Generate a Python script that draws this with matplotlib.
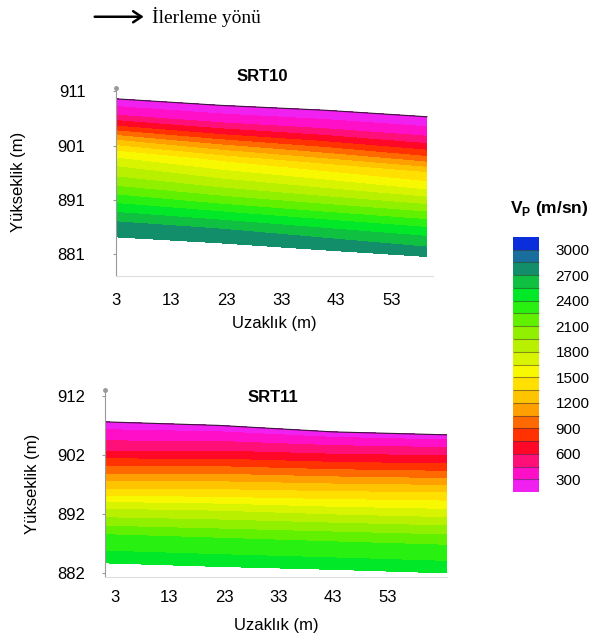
import numpy as np
import matplotlib
matplotlib.use("Agg")
import matplotlib.pyplot as plt
from matplotlib.colors import ListedColormap, BoundaryNorm

plt.rcParams['font.family'] = ['Liberation Sans', 'DejaVu Sans']
plt.rcParams['mathtext.fontset'] = 'custom'
plt.rcParams['mathtext.rm'] = 'Liberation Sans'
plt.rcParams['mathtext.bf'] = 'Liberation Sans:bold'

# hız sınıfları (m/sn)
levels = np.arange(150, 3151, 150)
colors = ['#f020f0', '#ff10c8', '#ff1078', '#ff0828', '#ff3200', '#ff6a00',
          '#ffa000', '#ffc400', '#ffe000', '#f8f800', '#d8f400', '#b8f000',
          '#90f000', '#60f000', '#28f010', '#00e828', '#10c040', '#138e6a',
          '#1a6e9e', '#0a2edc']
cbar_ticks = [300, 600, 900, 1200, 1500, 1800, 2100, 2400, 2700, 3000]

# derinlik oranı (0 = yüzey, 1 = model tabanı)
frac = [0, 0.1, 0.2, 0.3, 0.4, 0.5, 0.6, 0.7, 0.8, 0.9, 1.0]

# SRT10
srt10_x = [3, 22, 41, 59.5]
srt10_top = [909.6, 908.4, 907.5, 906.3]
srt10_bot = [884.2, 883.1, 881.8, 880.6]
srt10_v = [  # satır: derinlik oranı, sütun: istasyon
    [200, 200, 200, 200],
    [380, 360, 350, 340],
    [760, 700, 660, 620],
    [1200, 1100, 1020, 950],
    [1580, 1480, 1400, 1350],
    [1820, 1720, 1650, 1580],
    [2020, 1950, 1900, 1870],
    [2260, 2200, 2170, 2150],
    [2500, 2470, 2440, 2420],
    [2720, 2700, 2680, 2650],
    [2800, 2800, 2800, 2800],
]

# SRT11
srt11_x = [1.2, 22, 43, 63.8]
srt11_top = [907.6, 907.0, 905.9, 905.4]
srt11_bot = [883.7, 883.1, 882.6, 882.0]
srt11_v = [
    [200, 200, 200, 200],
    [380, 420, 450, 470],
    [580, 640, 690, 720],
    [850, 920, 970, 1000],
    [1130, 1200, 1260, 1300],
    [1400, 1470, 1520, 1550],
    [1750, 1780, 1790, 1800],
    [2000, 2020, 2040, 2050],
    [2250, 2250, 2250, 2250],
    [2380, 2380, 2380, 2380],
    [2500, 2500, 2500, 2500],
]

cmap = ListedColormap(colors)
norm = BoundaryNorm(levels, cmap.N)

fig = plt.figure(figsize=(5.93, 6.44), dpi=100)


def panel(rect, xs, top, bot, v, title, yticks, ylim, xlim, ypad, xpad, title_y, title_x,
          ylab_x, xlab_pad):
    ax = fig.add_axes(rect)
    X, F = np.meshgrid(xs, frac)
    T = np.tile(top, (len(frac), 1))
    B = np.tile(bot, (len(frac), 1))
    Y = T + F * (B - T)
    ax.contourf(X, Y, np.array(v), levels=levels, cmap=cmap, norm=norm)
    ax.plot(xs, top, color='#3a1838', lw=0.8)
    ax.set_xlim(*xlim)
    ax.set_ylim(*ylim)
    ax.set_yticks(yticks)
    ax.set_xticks([3, 13, 23, 33, 43, 53])
    ax.tick_params(axis='y', length=2, color='#999999', pad=ypad, labelsize=12)
    ax.tick_params(axis='x', length=0, pad=xpad, labelsize=12)
    for s in ['top', 'right']:
        ax.spines[s].set_visible(False)
    ax.spines['left'].set_color('#999999')
    ax.spines['bottom'].set_color('#dddddd')
    ax.plot([0], [1], marker='o', ms=2.5, color='#999999', transform=ax.transAxes, clip_on=False)
    ax.set_xlabel('Uzaklık (m)', fontsize=12, labelpad=xlab_pad)
    ax.set_ylabel('Yükseklik (m)', fontsize=12)
    ax.yaxis.set_label_coords(ylab_x, 0.5)
    ax.text(title_x, title_y, title, transform=ax.transAxes, ha='center', va='center',
            fontsize=12, fontweight='bold')
    return ax


ax1 = panel([0.1956, 0.5714, 0.5346, 0.2920], srt10_x, srt10_top, srt10_bot, srt10_v,
            'SRT10', [881, 891, 901, 911], (877.0, 911.6), (3, 60.6), 20, 12,
            1.06, 0.46, -0.285, 6)

ax2 = panel([0.1771, 0.1040, 0.5767, 0.2904], srt11_x, srt11_top, srt11_bot, srt11_v,
            'SRT11', [882, 892, 902, 912], (881.3, 913.0), (1.2, 63.8), 12, 9,
            0.96, 0.49, -0.19, 10)

# renk skalası
cax = fig.add_axes([0.8650, 0.2360, 0.0440, 0.3960])
cb = fig.colorbar(plt.cm.ScalarMappable(norm=norm, cmap=cmap), cax=cax,
                  ticks=cbar_ticks, drawedges=True)
cb.outline.set_visible(False)
cb.dividers.set_color('#303030')
cb.dividers.set_alpha(0.5)
cb.dividers.set_linewidth(0.8)
cax.minorticks_off()
cax.tick_params(which='both', length=0, width=0, pad=12, labelsize=11)
fig.text(0.927, 0.677, r'V$_\mathbf{P}$ (m/sn)', ha='center', va='center',
         fontsize=12.5, fontweight='bold')

# ilerleme yönü
fig.patches.append(matplotlib.patches.FancyArrowPatch(
    (0.155, 0.974), (0.247, 0.974), transform=fig.transFigure,
    arrowstyle='->,head_length=6,head_width=4', lw=1.8, color='black'))
fig.text(0.256, 0.973, 'İlerleme yönü', ha='left', va='center',
         fontsize=14, family=['Liberation Serif', 'DejaVu Serif'])

fig.savefig('out.png', dpi=100)
